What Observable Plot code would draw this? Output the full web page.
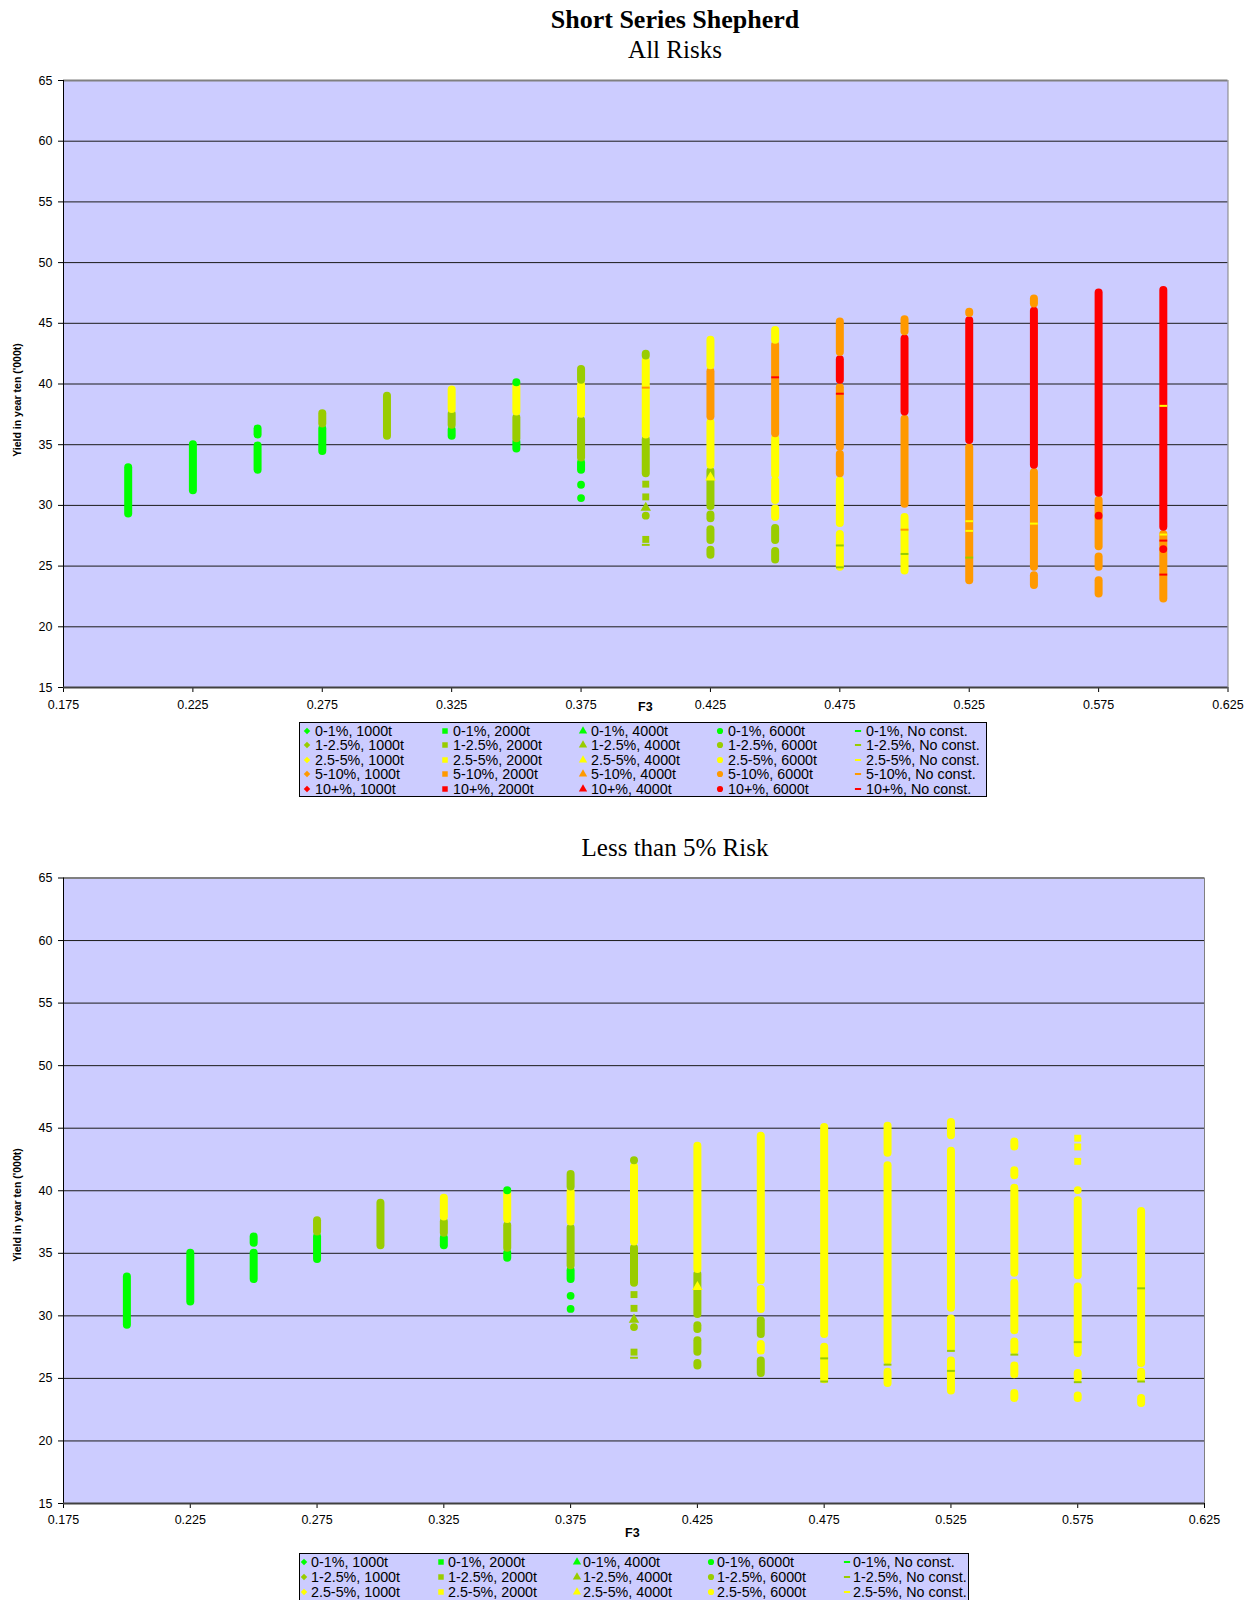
<!DOCTYPE html>
<html>
<head>
<meta charset="utf-8">
<script src="https://cdn.jsdelivr.net/npm/d3@7"></script>
<script src="https://cdn.jsdelivr.net/npm/@observablehq/plot@0.6"></script>
<style>
  body { margin: 0; background: #fff; }
  #page { position: relative; width: 1255px; height: 1600px; overflow: hidden; font-family: "Liberation Sans", Arial, sans-serif; color: #000; }
  #page svg.plot { position: absolute; left: 0; }
  .ttl { position: absolute; left: 0; width: 1350px; text-align: center; font-family: "Liberation Serif", "Times New Roman", serif; line-height: 1; color: #000; white-space: nowrap; }
  .axlab { position: absolute; font-weight: bold; line-height: 1; white-space: nowrap; }
  .ylab { position: absolute; font-weight: bold; font-size: 10.5px; line-height: 1; white-space: nowrap; transform: translate(-50%, -50%) rotate(-90deg); }
  .legend { position: absolute; background: #CCCCFF; border: 1px solid #000; box-sizing: border-box; }
  .legend .item { position: absolute; font-size: 14.3px; line-height: 1; white-space: nowrap; }
  .legend svg { position: absolute; overflow: visible; }
</style>
</head>
<body>
<div id="page"></div>
<script>
// ---------- data ----------
const riskLabels = ["0-1%", "1-2.5%", "2.5-5%", "5-10%", "10+%"];
const constraintLabels = ["1000t", "2000t", "4000t", "6000t", "No const."];
const constraintShapes = ["diamond", "square", "triangle", "circle", "dash"];
const xTicks = [0.175, 0.225, 0.275, 0.325, 0.375, 0.425, 0.475, 0.525, 0.575, 0.625];
const yTicks = [15, 20, 25, 30, 35, 40, 45, 50, 55, 60, 65];

// dense runs of overlapping points: [F3, lowest yield, highest yield, risk band]
const allRiskRuns = [
  [0.2, 29.3, 33.1, "0-1%"],
  [0.225, 31.2, 35.0, "0-1%"],
  [0.25, 32.9, 34.9, "0-1%"], [0.25, 35.8, 36.3, "0-1%"],
  [0.275, 34.45, 36.3, "0-1%"], [0.275, 36.7, 37.55, "1-2.5%"],
  [0.3, 35.7, 39.0, "1-2.5%"],
  [0.325, 35.7, 36.2, "0-1%"], [0.325, 36.6, 37.5, "1-2.5%"], [0.325, 37.9, 39.5, "2.5-5%"],
  [0.35, 34.65, 35.2, "0-1%"], [0.35, 35.5, 37.2, "1-2.5%"], [0.35, 37.7, 39.8, "2.5-5%"], [0.35, 40.1, 40.1, "0-1%"],
  [0.375, 32.9, 33.5, "0-1%"], [0.375, 33.9, 37.0, "1-2.5%"], [0.375, 37.5, 39.9, "2.5-5%"], [0.375, 40.3, 41.2, "1-2.5%"],
  [0.4, 32.6, 35.4, "1-2.5%"], [0.4, 35.8, 41.9, "2.5-5%"], [0.4, 42.3, 42.45, "1-2.5%"],
  [0.425, 25.9, 26.3, "1-2.5%"], [0.425, 27.1, 28.0, "1-2.5%"], [0.425, 28.9, 29.2, "1-2.5%"], [0.425, 29.9, 32.8, "1-2.5%"],
  [0.425, 33.3, 36.8, "2.5-5%"], [0.425, 37.3, 41.0, "5-10%"], [0.425, 41.5, 43.6, "2.5-5%"],
  [0.45, 25.5, 26.2, "1-2.5%"], [0.45, 27.1, 28.1, "1-2.5%"], [0.45, 29.0, 29.7, "2.5-5%"], [0.45, 30.4, 32.0, "2.5-5%"],
  [0.45, 32.5, 35.5, "2.5-5%"], [0.45, 35.9, 43.2, "5-10%"], [0.45, 43.6, 44.4, "2.5-5%"],
  [0.475, 24.9, 27.6, "2.5-5%"], [0.475, 28.5, 32.0, "2.5-5%"], [0.475, 32.6, 34.2, "5-10%"], [0.475, 34.8, 39.7, "5-10%"],
  [0.475, 40.3, 42.0, "10+%"], [0.475, 42.6, 45.1, "5-10%"],
  [0.5, 24.6, 29.0, "2.5-5%"], [0.5, 30.1, 37.1, "5-10%"], [0.5, 37.7, 43.7, "10+%"], [0.5, 44.3, 45.3, "5-10%"],
  [0.525, 23.8, 34.75, "5-10%"], [0.525, 35.35, 45.2, "10+%"], [0.525, 45.8, 45.9, "5-10%"],
  [0.55, 23.4, 24.2, "5-10%"], [0.55, 24.9, 32.7, "5-10%"], [0.55, 33.3, 46.0, "10+%"], [0.55, 46.6, 47.0, "5-10%"],
  [0.575, 22.7, 23.8, "5-10%"], [0.575, 24.9, 25.75, "5-10%"], [0.575, 26.6, 30.4, "5-10%"], [0.575, 31.0, 47.5, "10+%"],
  [0.6, 22.3, 27.6, "5-10%"], [0.6, 28.2, 47.7, "10+%"]
];
// separately visible points: [F3, yield, risk band, catch constraint]
const allRiskPoints = [
  [0.375, 31.7, "0-1%", "6000t"], [0.375, 30.6, "0-1%", "6000t"],
  [0.4, 31.75, "1-2.5%", "2000t"], [0.4, 30.7, "1-2.5%", "2000t"], [0.4, 29.8, "1-2.5%", "4000t"],
  [0.4, 29.15, "1-2.5%", "6000t"], [0.4, 27.2, "1-2.5%", "2000t"], [0.4, 26.75, "1-2.5%", "No const."],
  [0.4, 39.7, "5-10%", "No const."],
  [0.425, 32.3, "2.5-5%", "4000t"],
  [0.45, 40.55, "10+%", "No const."],
  [0.475, 39.2, "10+%", "No const."], [0.475, 26.7, "1-2.5%", "No const."], [0.475, 24.9, "1-2.5%", "No const."],
  [0.5, 28.0, "5-10%", "No const."], [0.5, 26.0, "1-2.5%", "No const."],
  [0.525, 28.7, "2.5-5%", "No const."], [0.525, 27.9, "2.5-5%", "No const."], [0.525, 25.7, "1-2.5%", "No const."],
  [0.55, 28.5, "2.5-5%", "No const."],
  [0.575, 29.15, "10+%", "6000t"],
  [0.6, 38.2, "2.5-5%", "No const."], [0.6, 27.6, "2.5-5%", "No const."], [0.6, 27.1, "10+%", "No const."],
  [0.6, 26.4, "10+%", "6000t"], [0.6, 24.3, "10+%", "No const."]
];

const lowRiskRuns = [
  [0.2, 29.25, 33.1, "0-1%"],
  [0.225, 31.1, 35.0, "0-1%"],
  [0.25, 32.9, 35.0, "0-1%"], [0.25, 35.8, 36.3, "0-1%"],
  [0.275, 34.5, 36.3, "0-1%"], [0.275, 36.7, 37.6, "1-2.5%"],
  [0.3, 35.6, 39.0, "1-2.5%"],
  [0.325, 35.6, 36.2, "0-1%"], [0.325, 36.6, 37.5, "1-2.5%"], [0.325, 37.9, 39.4, "2.5-5%"],
  [0.35, 34.6, 35.0, "0-1%"], [0.35, 35.4, 37.2, "1-2.5%"], [0.35, 37.7, 39.8, "2.5-5%"], [0.35, 40.0, 40.0, "0-1%"],
  [0.375, 32.9, 33.6, "0-1%"], [0.375, 34.0, 37.0, "1-2.5%"], [0.375, 37.5, 39.9, "2.5-5%"], [0.375, 40.3, 41.3, "1-2.5%"],
  [0.4, 32.6, 35.4, "1-2.5%"], [0.4, 35.9, 41.9, "2.5-5%"], [0.4, 42.4, 42.4, "1-2.5%"],
  [0.425, 26.0, 26.2, "1-2.5%"], [0.425, 27.1, 28.0, "1-2.5%"], [0.425, 28.9, 29.2, "1-2.5%"], [0.425, 30.1, 33.3, "1-2.5%"],
  [0.425, 33.7, 43.55, "2.5-5%"],
  [0.45, 25.4, 26.4, "1-2.5%"], [0.45, 27.2, 27.7, "2.5-5%"], [0.45, 28.5, 29.6, "1-2.5%"], [0.45, 30.5, 32.1, "2.5-5%"],
  [0.45, 32.8, 44.35, "2.5-5%"],
  [0.475, 24.9, 27.5, "2.5-5%"], [0.475, 28.5, 45.05, "2.5-5%"],
  [0.5, 24.6, 25.5, "2.5-5%"], [0.5, 26.4, 42.0, "2.5-5%"], [0.5, 43.0, 45.15, "2.5-5%"],
  [0.525, 24.0, 26.4, "2.5-5%"], [0.525, 27.4, 29.75, "2.5-5%"], [0.525, 30.6, 43.15, "2.5-5%"], [0.525, 44.4, 45.45, "2.5-5%"],
  [0.55, 23.4, 23.8, "2.5-5%"], [0.55, 25.3, 26.0, "2.5-5%"], [0.55, 27.2, 27.9, "2.5-5%"], [0.55, 28.8, 32.6, "2.5-5%"],
  [0.55, 33.4, 40.2, "2.5-5%"], [0.55, 41.2, 41.6, "2.5-5%"], [0.55, 43.5, 43.9, "2.5-5%"],
  [0.575, 23.4, 23.6, "2.5-5%"], [0.575, 25.0, 25.4, "2.5-5%"], [0.575, 27.0, 32.3, "2.5-5%"], [0.575, 33.2, 39.2, "2.5-5%"],
  [0.6, 23.0, 23.4, "2.5-5%"], [0.6, 25.0, 25.5, "2.5-5%"], [0.6, 26.2, 38.35, "2.5-5%"]
];
const lowRiskPoints = [
  [0.375, 31.6, "0-1%", "6000t"], [0.375, 30.55, "0-1%", "6000t"],
  [0.4, 31.7, "1-2.5%", "2000t"], [0.4, 30.6, "1-2.5%", "2000t"], [0.4, 29.7, "1-2.5%", "4000t"],
  [0.4, 29.1, "1-2.5%", "6000t"], [0.4, 27.1, "1-2.5%", "2000t"], [0.4, 26.65, "1-2.5%", "No const."],
  [0.425, 32.3, "2.5-5%", "4000t"],
  [0.475, 26.6, "1-2.5%", "No const."], [0.475, 24.75, "1-2.5%", "No const."],
  [0.5, 26.1, "1-2.5%", "No const."],
  [0.525, 27.2, "1-2.5%", "No const."], [0.525, 25.6, "1-2.5%", "No const."],
  [0.55, 26.9, "1-2.5%", "No const."],
  [0.575, 44.2, "2.5-5%", "2000t"], [0.575, 43.5, "2.5-5%", "2000t"], [0.575, 42.35, "2.5-5%", "2000t"],
  [0.575, 40.05, "2.5-5%", "6000t"], [0.575, 27.9, "1-2.5%", "No const."], [0.575, 24.7, "1-2.5%", "No const."],
  [0.6, 32.2, "1-2.5%", "No const."], [0.6, 24.75, "1-2.5%", "No const."]
];

// ---------- styles ----------
const riskColors = ["#00FF00", "#99CC00", "#FFFF00", "#FF9900", "#FF0000"];
const dashSymbol = {
  draw(context, size) {
    const w = Math.sqrt(size / Math.PI);
    context.moveTo(-w, -1); context.lineTo(w, -1); context.lineTo(w, 1); context.lineTo(-w, 1); context.closePath();
  }
};
const diamondSymbol = {
  draw(context, size) {
    const w = Math.sqrt(size / Math.PI) * 1.05;
    context.moveTo(0, -w); context.lineTo(w, 0); context.lineTo(0, w); context.lineTo(-w, 0); context.closePath();
  }
};
const symbolFor = { diamond: diamondSymbol, square: "square", triangle: "triangle", circle: "circle", dash: dashSymbol };
const shapeOf = Object.fromEntries(constraintLabels.map((c, i) => [c, constraintShapes[i]]));

function chart(runs, points, opts) {
  const runData = runs.map(([f3, lo, hi, risk]) => ({f3, lo, hi, risk}));
  const pointData = points.map(([f3, y, risk, constraint]) => ({f3, y, risk, shape: shapeOf[constraint]}));
  return Plot.plot({
    width: 1255,
    height: opts.height,
    marginTop: opts.marginTop,
    marginBottom: opts.marginBottom,
    marginLeft: 63,
    marginRight: opts.marginRight,
    style: {background: "transparent", fontFamily: "'Liberation Sans', Arial, sans-serif", fontSize: "12.5px", color: "#000", position: "absolute", top: opts.top + "px", left: "0px"},
    x: {domain: [0.175, 0.625]},
    y: {domain: [15, 65]},
    color: {domain: riskLabels, range: riskColors},
    marks: [
      Plot.frame({fill: "#CCCCFF", stroke: "none"}),
      Plot.ruleY(yTicks.filter(d => d > 15 && d < 65), {stroke: "#1a1a1a", strokeWidth: 1}),
      Plot.ruleY([65], {stroke: "#808080", strokeWidth: 2}),
      Plot.ruleX([0.625], {stroke: "#808080", strokeWidth: 1}),
      Plot.ruleX(runData, {x: "f3", y1: "lo", y2: "hi", stroke: "risk", strokeWidth: 8, strokeLinecap: "round"}),
      ...constraintShapes.map(s => Plot.dot(pointData.filter(d => d.shape === s), {x: "f3", y: "y", fill: "risk", symbol: symbolFor[s], r: 3.9})),
      Plot.axisX({ticks: xTicks, tickFormat: d3.format(".3f"), tickSize: 5, tickPadding: opts.xPad, label: null}),
      Plot.axisY({ticks: yTicks, tickSize: 5, tickPadding: 6, label: null}),
      Plot.ruleX([0.175], {stroke: "#000", strokeWidth: 1}),
      Plot.ruleY([15], {stroke: "#404040", strokeWidth: 2})
    ]
  });
}

function legend(page, box, rows, markerXs, textXs, firstRowY, rowStep) {
  const lg = document.createElement("div");
  lg.className = "legend";
  Object.assign(lg.style, {left: box.left + "px", top: box.top + "px", width: box.width + "px", height: box.height + "px"});
  page.appendChild(lg);
  rows.forEach((risk, ri) => {
    const color = riskColors[riskLabels.indexOf(risk)];
    const cy = firstRowY + ri * rowStep - box.top - 1;
    constraintLabels.forEach((c, ci) => {
      const shape = constraintShapes[ci];
      const svg = d3.create("svg").attr("width", 10).attr("height", 10)
        .style("left", (markerXs[ci] - box.left - 1 - 5) + "px").style("top", (cy - 5) + "px");
      const sym = symbolFor[shape];
      const path = d3.symbol(typeof sym === "string" ? {square: d3.symbolSquare, triangle: d3.symbolTriangle, circle: d3.symbolCircle}[sym] : sym, 30)();
      svg.append("path").attr("transform", "translate(5,5)").attr("d", path).attr("fill", color);
      lg.appendChild(svg.node());
      const t = document.createElement("div");
      t.className = "item";
      t.textContent = `${risk}, ${c}`;
      Object.assign(t.style, {left: (textXs[ci] - box.left - 1) + "px", top: (cy - 7) + "px"});
      lg.appendChild(t);
    });
  });
}

const page = document.getElementById("page");
page.appendChild(chart(allRiskRuns, allRiskPoints, {top: 0, height: 740, marginTop: 80, marginBottom: 53, marginRight: 27.5, xPad: 8}));
page.appendChild(chart(lowRiskRuns, lowRiskPoints, {top: 800, height: 760, marginTop: 77.5, marginBottom: 57, marginRight: 51, xPad: 7}));

function addText(cls, text, style) {
  const d = document.createElement("div");
  d.className = cls;
  d.textContent = text;
  Object.assign(d.style, style);
  page.appendChild(d);
}
addText("ttl", "Short Series Shepherd", {top: "7px", fontSize: "26px", fontWeight: "bold"});
addText("ttl", "All Risks", {top: "37px", fontSize: "25px"});
addText("ttl", "Less than 5% Risk", {top: "835px", fontSize: "25px"});
addText("axlab", "F3", {left: "638px", top: "701px", fontSize: "12.5px"});
addText("axlab", "F3", {left: "625px", top: "1527px", fontSize: "12.5px"});
addText("ylab", "Yield in year ten ('000t)", {left: "17px", top: "400px"});
addText("ylab", "Yield in year ten ('000t)", {left: "17px", top: "1205px"});

legend(page, {left: 299, top: 722, width: 688, height: 75}, riskLabels,
  [307, 445, 583, 720, 858], [315, 453, 591, 728, 866], 730.5, 14.6);
legend(page, {left: 299, top: 1553, width: 670, height: 52}, riskLabels.slice(0, 3),
  [304, 441, 577, 711, 847], [311, 448, 583, 717, 853], 1562, 14.8);
</script>
</body>
</html>
